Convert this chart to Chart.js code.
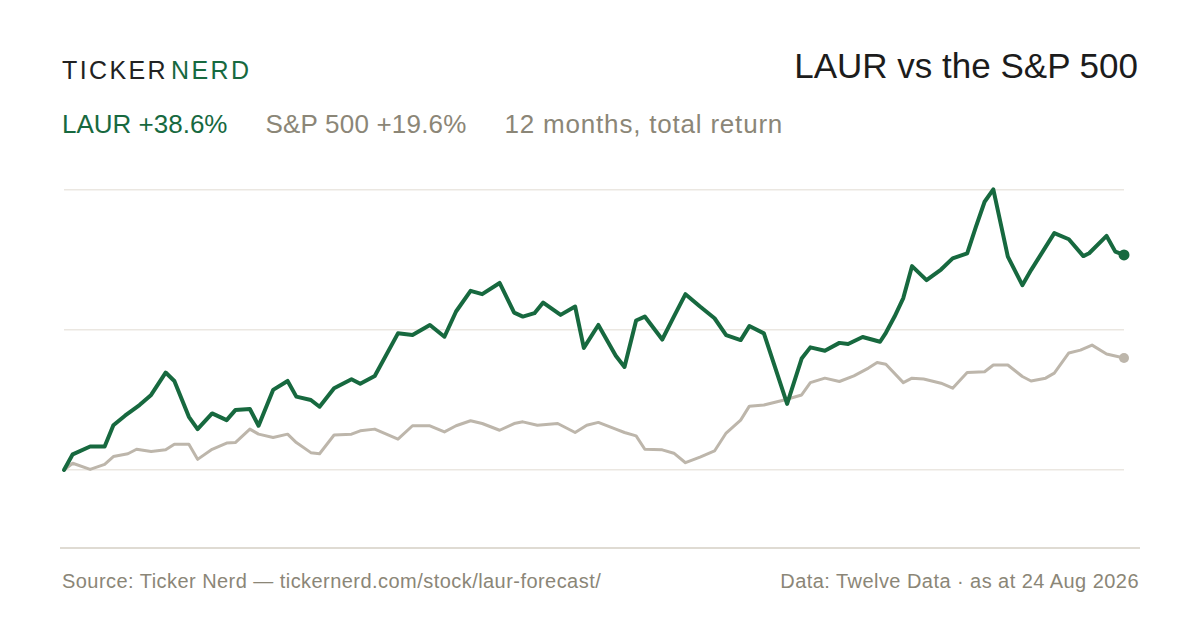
<!DOCTYPE html>
<html>
<head>
<meta charset="utf-8">
<script src="https://cdn.jsdelivr.net/npm/chart.js@4/dist/chart.umd.min.js"></script>
<style>
  html, body { margin: 0; padding: 0; background: #fff; }
  body { width: 1200px; height: 630px; position: relative; overflow: hidden;
         font-family: "Liberation Sans", Arial, sans-serif; }
  .abs { position: absolute; white-space: nowrap; line-height: 1; }
  #brand { left: 62px; top: 58px; font-size: 25px; letter-spacing: 2.4px; color: #222; }
  #brand span { color: #17693f; margin-left: 3px; }
  #title { right: 62px; top: 48px; font-size: 35px; color: #1c1c1c; }
  #sub { left: 62px; top: 111px; font-size: 26px; display: flex; gap: 38px; color: #8b8677; }
  #sub .laur { color: #17693f; }
  #sub .spx { letter-spacing: 0.2px; }
  #sub .note { letter-spacing: 0.8px; }
  #chartBox { position: absolute; left: 40px; top: 150px; width: 1110px; height: 390px; }
  #rule { position: absolute; left: 60px; top: 547px; width: 1080px; height: 2px; background: #dfdbd3; }
  .foot { top: 571px; font-size: 20px; letter-spacing: 0.45px; color: #8b8677; }
  #footL { left: 62px; }
  #footR { right: 61px; }
</style>
</head>
<body>
<div id="brand" class="abs">TICKER<span>NERD</span></div>
<div id="title" class="abs">LAUR vs the S&amp;P 500</div>
<div id="sub" class="abs">
  <div class="laur">LAUR +38.6%</div>
  <div class="spx">S&amp;P 500 +19.6%</div>
  <div class="note">12 months, total return</div>
</div>
<div id="chartBox"><canvas id="myChartLine"></canvas></div>
<div id="rule"></div>
<div id="footL" class="abs foot">Source: Ticker Nerd — tickernerd.com/stock/laur-forecast/</div>
<div id="footR" class="abs foot">Data: Twelve Data · as at 24 Aug 2026</div>

<script>
// days since start of the 12 month window, and total return in %
const laurDays = [0,3,9,14,17,21,26,30,35,38,43,46,51,56,59,64,67,72,77,80,85,88,93,99,102,107,115,120,126,131,135,140,144,150,155,158,162,165,171,176,179,184,190,193,197,200,206,210,214,219,224,228,233,236,241,249,254,257,262,267,270,275,281,283,286,289,292,297,302,306,311,314,317,320,325,330,333,337,341,346,351,353,359,362,365];
const laurReturns = [0,2.8,4.2,4.2,8.0,9.7,11.6,13.4,17.4,15.9,9.5,7.3,10.1,8.9,10.7,10.9,7.9,14.3,15.9,13.1,12.5,11.3,14.6,16.2,15.4,16.8,24.4,24.1,25.9,23.8,28.3,32.0,31.4,33.4,28.1,27.4,28.0,29.9,27.7,29.2,21.8,25.9,20.4,18.4,26.7,27.4,23.3,27.4,31.4,29.2,27.1,24.1,23.2,25.7,24.4,11.8,19.9,21.9,21.3,22.7,22.5,23.75,22.9,24.5,27.4,30.7,36.4,33.9,35.8,37.8,38.7,43.4,47.9,50.1,38.1,33.0,35.7,39.0,42.3,41.2,38.2,38.7,41.8,39.0,38.4];

const spxDays = [0,3,9,14,17,22,25,30,35,38,43,46,51,56,59,64,67,72,77,80,85,88,93,99,102,107,115,120,126,131,135,140,144,150,155,158,163,170,176,180,184,190,193,197,200,206,210,214,219,224,228,233,236,241,248,254,257,262,267,272,277,280,283,289,292,296,302,306,311,317,320,325,330,333,338,341,346,350,354,359,365];
const spxReturns = [0,1.2,0.1,1.0,2.4,2.9,3.7,3.3,3.6,4.6,4.6,1.9,3.7,4.8,4.9,7.3,6.4,5.8,6.4,4.9,3.1,2.9,6.25,6.4,7.0,7.3,5.5,7.9,7.9,6.8,7.9,8.8,8.3,7.1,8.3,8.6,8.0,8.3,6.7,8.0,8.5,7.3,6.7,6.1,3.7,3.6,3.0,1.3,2.3,3.4,6.6,8.9,11.4,11.6,12.5,13.4,15.6,16.4,15.8,16.8,18.2,19.2,18.9,15.6,16.4,16.25,15.5,14.6,17.4,17.55,18.75,18.75,16.7,15.9,16.4,17.3,20.9,21.4,22.3,20.7,20.0];

const gridTicks = [0, 25, 50];

const green = '#17693f';
const sand = '#bdb6ab';

function toPoints(days, vals) {
  return days.map((d, i) => ({ x: d, y: vals[i] }));
}
function endDot(r) {
  return ctx => ctx.dataIndex === ctx.dataset.data.length - 1 ? r : 0;
}

const myChartLine = document.getElementById('myChartLine');

new Chart(myChartLine, {
  type: 'line',
  data: {
    datasets: [{
      label: 'LAUR',
      data: toPoints(laurDays, laurReturns),
      borderColor: green,
      backgroundColor: green,
      borderWidth: 4,
      pointRadius: endDot(5.5),
      pointBorderWidth: 0,
      clip: false
    }, {
      label: 'S&P 500',
      data: toPoints(spxDays, spxReturns),
      borderColor: sand,
      backgroundColor: sand,
      borderWidth: 3,
      pointRadius: endDot(5),
      pointBorderWidth: 0,
      clip: false
    }]
  },
  options: {
    responsive: true,
    maintainAspectRatio: false,
    animation: false,
    layout: { padding: { left: 24, right: 26, top: 12, bottom: 14 } },
    elements: {
      line: { tension: 0, borderJoinStyle: 'round', borderCapStyle: 'round' }
    },
    plugins: { legend: { display: false }, tooltip: { enabled: false } },
    scales: {
      x: { type: 'linear', min: 0, max: 365, display: false },
      y: {
        min: -10,
        max: 55,
        afterBuildTicks: scale => { scale.ticks = gridTicks.map(v => ({ value: v })); },
        ticks: { display: false },
        border: { display: false },
        grid: { color: '#ebe7e1', lineWidth: 1.5, drawTicks: false }
      }
    }
  }
});
</script>
</body>
</html>
